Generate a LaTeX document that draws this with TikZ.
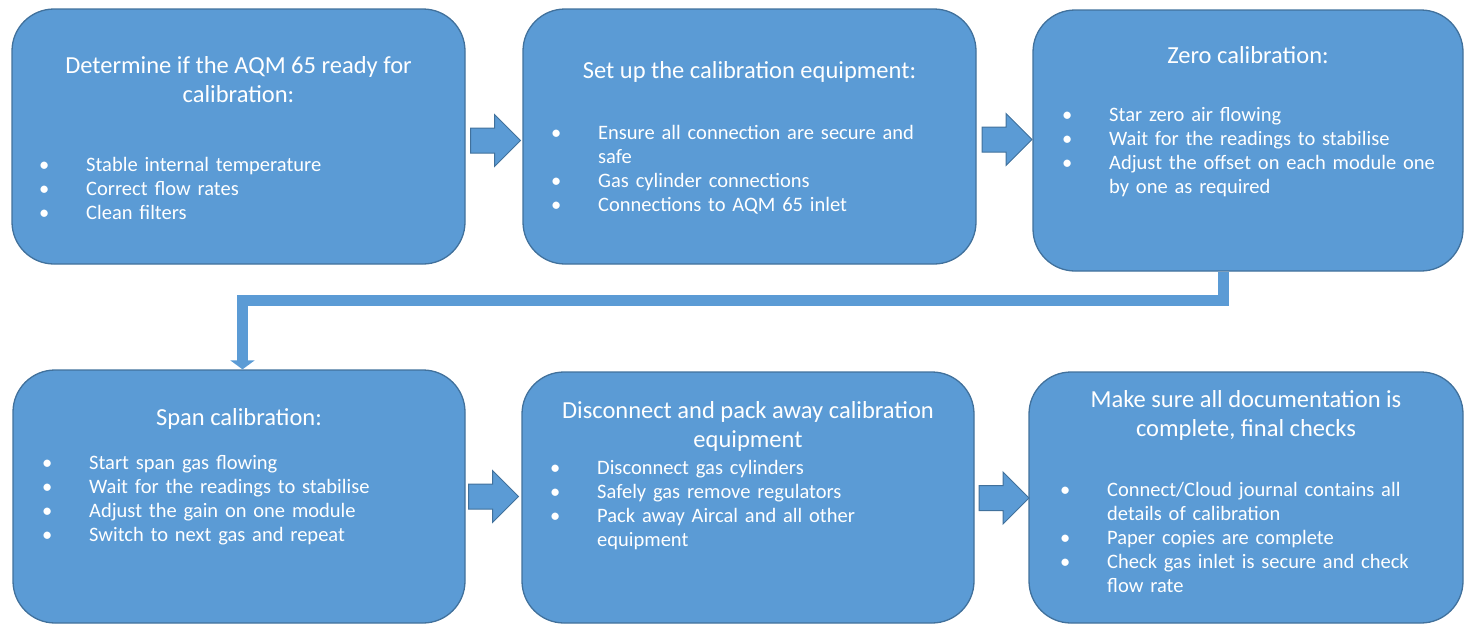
\documentclass[tikz,border=0pt]{standalone}
\usepackage{fontspec}
\setmainfont{Carlito}
\usetikzlibrary{arrows.meta}

\definecolor{boxblue}{HTML}{5B9BD5}
\definecolor{edgeblue}{HTML}{41719C}

% one bullet line, wrapped lines hang under the text
\newcommand\blt[1]{\par\hangindent=47pt\hangafter=1\noindent\strut\makebox[47pt][l]{\textbullet}#1\par}

\begin{document}
\begin{tikzpicture}[x=1pt,y=-1pt,
    stepbox/.style={draw=edgeblue, line width=1.3pt, fill=boxblue, rounded corners=42pt, inner sep=0pt},
    headtext/.style={text=white, align=center, inner sep=0pt, anchor=north, font=\fontsize{24.5}{29}\selectfont},
    listtext/.style={text=white, align=left, inner sep=0pt, anchor=north west, text width=400pt, font=\fontsize{20.5}{24}\selectfont},
    elbow/.style={draw=boxblue, line width=11pt, -{Triangle[width=24pt,length=9pt]}},
    blockarrow/.pic={\filldraw[fill=boxblue, draw=edgeblue, line width=1pt] (-25,-12.5) -- (-1,-12.5) -- (-1,-26) -- (25,0) -- (-1,26) -- (-1,12.5) -- (-25,12.5) -- cycle;}]
    \useasboundingbox (0,0) rectangle (1464,624);

    % the six steps
    \node[stepbox, minimum width=453pt, minimum height=255pt] (b1) at (238.5,136.5) {};
    \node[stepbox, minimum width=453pt, minimum height=255pt] (b2) at (749.5,136.5) {};
    \node[stepbox, minimum width=430pt, minimum height=261pt] (b3) at (1248,140.5) {};
    \node[stepbox, minimum width=452pt, minimum height=253pt] (b4) at (239,496.5) {};
    \node[stepbox, minimum width=452pt, minimum height=251pt] (b5) at (748,497.5) {};
    \node[stepbox, minimum width=434pt, minimum height=251pt] (b6) at (1246,497.5) {};

    % headings
    \node[headtext] (t1) at (238.5,52.7) {\strut Determine if the AQM 65 ready for\\calibration:};
    \node[headtext] (t2) at (749.5,57.7) {\strut Set up the calibration equipment:};
    \node[headtext] (t3) at (1248,42.7) {\strut Zero calibration:};
    \node[headtext] (t4) at (239,404.7) {\strut Span calibration:};
    \node[headtext] (t5) at (748,397.7) {\strut Disconnect and pack away calibration\\equipment};
    \node[headtext] (t6) at (1246,386.7) {\strut Make sure all documentation is\\complete, final checks};

    % bullet lists
    \node[listtext] (l1) at (39,147.2) {%
      \blt{Stable internal temperature}
      \blt{Correct flow rates}
      \blt{Clean filters}};
    \node[listtext] (l2) at (551,115.2) {%
      \blt{Ensure all connection are secure and\newline safe}
      \blt{Gas cylinder connections}
      \blt{Connections to AQM 65 inlet}};
    \node[listtext] (l3) at (1062,97.2) {%
      \blt{Star zero air flowing}
      \blt{Wait for the readings to stabilise}
      \blt{Adjust the offset on each module one\newline by one as required}};
    \node[listtext] (l4) at (42,445.2) {%
      \blt{Start span gas flowing}
      \blt{Wait for the readings to stabilise}
      \blt{Adjust the gain on one module}
      \blt{Switch to next gas and repeat}};
    \node[listtext] (l5) at (550,450.2) {%
      \blt{Disconnect gas cylinders}
      \blt{Safely gas remove regulators}
      \blt{Pack away Aircal and all other\newline equipment}};
    \node[listtext] (l6) at (1060,472.2) {%
      \blt{Connect/Cloud journal contains all\newline details of calibration}
      \blt{Paper copies are complete}
      \blt{Check gas inlet is secure and check\newline flow rate}};

    % block arrows between steps
    \pic at (495.5,140.5) {blockarrow};
    \pic at (1007,139.5) {blockarrow};
    \pic at (493.5,496.5) {blockarrow};
    \pic at (1004,498) {blockarrow};

    % elbow from step 3 down to step 4
    \coordinate (k1) at (1223.5,300);
    \coordinate (k2) at (242.5,300);
    \draw[elbow] (b3.south -| k1) -- (k1) -- (k2) -- (b4.north -| k2);
\end{tikzpicture}
\end{document}
